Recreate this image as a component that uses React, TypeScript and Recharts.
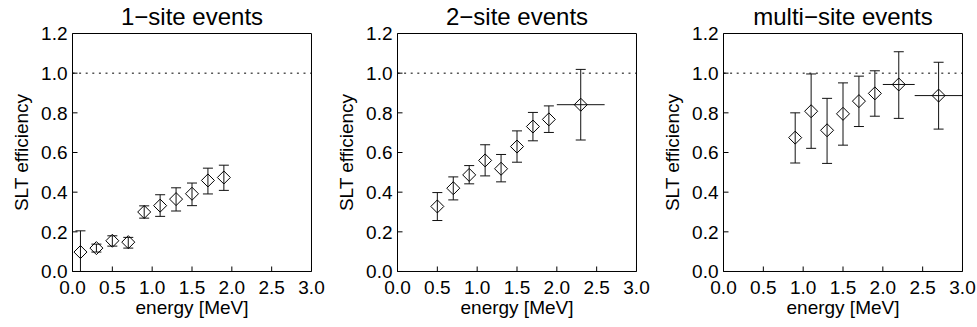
import { ScatterChart, Scatter, XAxis, YAxis, ErrorBar, ReferenceLine } from 'recharts';

// axis ticks
const majorX = [0, 0.5, 1.0, 1.5, 2.0, 2.5, 3.0];
const minorX = [0, 0.1, 0.2, 0.3, 0.4, 0.5, 0.6, 0.7, 0.8, 0.9, 1.0, 1.1, 1.2, 1.3, 1.4, 1.5, 1.6, 1.7, 1.8, 1.9, 2.0, 2.1, 2.2, 2.3, 2.4, 2.5, 2.6, 2.7, 2.8, 2.9, 3.0];
const majorY = [0, 0.2, 0.4, 0.6, 0.8, 1.0, 1.2];
const minorY = [0, 0.05, 0.1, 0.15, 0.2, 0.25, 0.3, 0.35, 0.4, 0.45, 0.5, 0.55, 0.6, 0.65, 0.7, 0.75, 0.8, 0.85, 0.9, 0.95, 1.0, 1.05, 1.1, 1.15, 1.2];

// 1-site events
const site1Energy = [0.1, 0.3, 0.5, 0.7, 0.9, 1.1, 1.3, 1.5, 1.7, 1.9];
const site1Eff = [0.098, 0.118, 0.155, 0.148, 0.300, 0.332, 0.365, 0.392, 0.459, 0.474];
const site1Low = [0.0, 0.098, 0.128, 0.118, 0.269, 0.278, 0.305, 0.332, 0.391, 0.409];
const site1High = [0.205, 0.138, 0.180, 0.172, 0.331, 0.387, 0.422, 0.446, 0.521, 0.536];

// 2-site events
const site2Energy = [0.5, 0.7, 0.9, 1.1, 1.3, 1.5, 1.7, 1.9, 2.3];
const site2Eff = [0.328, 0.420, 0.487, 0.560, 0.518, 0.630, 0.731, 0.767, 0.841];
const site2Low = [0.257, 0.361, 0.442, 0.482, 0.452, 0.551, 0.659, 0.701, 0.663];
const site2High = [0.398, 0.477, 0.534, 0.639, 0.590, 0.709, 0.802, 0.835, 1.019];
const site2BinLow = [0.5, 0.7, 0.9, 1.1, 1.3, 1.5, 1.7, 1.9, 2.0];
const site2BinHigh = [0.5, 0.7, 0.9, 1.1, 1.3, 1.5, 1.7, 1.9, 2.6];

// multi-site events
const multiEnergy = [0.9, 1.1, 1.3, 1.5, 1.7, 1.9, 2.2, 2.7];
const multiEff = [0.675, 0.808, 0.712, 0.795, 0.859, 0.898, 0.943, 0.887];
const multiLow = [0.547, 0.621, 0.545, 0.637, 0.731, 0.783, 0.772, 0.718];
const multiHigh = [0.800, 0.996, 0.873, 0.951, 0.985, 1.012, 1.108, 1.055];
const multiBinLow = [0.9, 1.1, 1.3, 1.5, 1.7, 1.9, 2.0, 2.4];
const multiBinHigh = [0.9, 1.1, 1.3, 1.5, 1.7, 1.9, 2.4, 3.0];

const FONT = '"Liberation Sans", Arial, Helvetica, sans-serif';
const W = 326;
const H = 327;
const M = { top: 33.5, right: 14.5, bottom: 55.5, left: 72.5 };
const AX = '#000';

const buildRows = (energy: number[], eff: number[], low: number[], high: number[], binLow?: number[], binHigh?: number[]) =>
  energy.map((e, i) => {
    const hasX = binLow && binHigh && binHigh[i] > binLow[i];
    return {
      energy: e,
      eff: eff[i],
      yErr: [eff[i] - low[i], high[i] - eff[i]],
      xErr: hasX ? [e - binLow![i], binHigh![i] - e] : null,
    };
  });

const Diamond = (props: any) => {
  const { cx, cy } = props;
  if (cx == null || cy == null) return null;
  const r = 6.5;
  return (
    <path
      d={`M${cx},${cy - r}L${cx + r},${cy}L${cx},${cy + r}L${cx - r},${cy}Z`}
      fill="none"
      stroke="#000"
      strokeWidth={1}
    />
  );
};

const Panel = ({ title, rows, left }: { title: string; rows: any[]; left: number }) => {
  const midX = M.left + (W - M.left - M.right) / 2;
  const midY = M.top + (H - M.top - M.bottom) / 2;
  const thin = 0.001;
  return (
    <div style={{ position: 'absolute', left, top: 0, width: W, height: H }}>
      <ScatterChart width={W} height={H} margin={M} style={{ fontFamily: FONT }}>
        {/* minor ticks, all four sides */}
        <XAxis xAxisId="bm" type="number" domain={[0, 3]} ticks={minorX} interval={0} orientation="bottom"
          height={thin} tickSize={-3} tick={false} axisLine={false} tickLine={{ stroke: AX }} allowDataOverflow />
        <XAxis xAxisId="tm" type="number" domain={[0, 3]} ticks={minorX} interval={0} orientation="top"
          height={thin} tickSize={-3} tick={false} axisLine={false} tickLine={{ stroke: AX }} allowDataOverflow />
        <YAxis yAxisId="lm" type="number" domain={[0, 1.2]} ticks={minorY} interval={0} orientation="left"
          width={thin} tickSize={-3} tick={false} axisLine={false} tickLine={{ stroke: AX }} allowDataOverflow />
        <YAxis yAxisId="rm" type="number" domain={[0, 1.2]} ticks={minorY} interval={0} orientation="right"
          width={thin} tickSize={-3} tick={false} axisLine={false} tickLine={{ stroke: AX }} allowDataOverflow />
        {/* major ticks on top / right */}
        <XAxis xAxisId="t" type="number" domain={[0, 3]} ticks={majorX} interval={0} orientation="top"
          height={thin} tickSize={-5} tick={false} axisLine={{ stroke: AX }} tickLine={{ stroke: AX }} allowDataOverflow />
        <YAxis yAxisId="r" type="number" domain={[0, 1.2]} ticks={majorY} interval={0} orientation="right"
          width={thin} tickSize={-5} tick={false} axisLine={{ stroke: AX }} tickLine={{ stroke: AX }} allowDataOverflow />
        {/* main axes with labels */}
        <XAxis xAxisId="main" dataKey="energy" type="number" domain={[0, 3]} ticks={majorX} interval={0}
          orientation="bottom" height={thin} tickSize={-5} tickMargin={14}
          tick={{ fill: '#000', fontSize: 19, fontFamily: FONT }} tickFormatter={(v: number) => v.toFixed(1)}
          axisLine={{ stroke: AX }} tickLine={{ stroke: AX }} allowDataOverflow />
        <YAxis yAxisId="main" dataKey="eff" type="number" domain={[0, 1.2]} ticks={majorY} interval={0}
          orientation="left" width={thin} tickSize={-5} tickMargin={10}
          tick={{ fill: '#000', fontSize: 19, fontFamily: FONT }} tickFormatter={(v: number) => v.toFixed(1)}
          axisLine={{ stroke: AX }} tickLine={{ stroke: AX }} allowDataOverflow />
        <ReferenceLine xAxisId="main" yAxisId="main" y={1} stroke="#000" strokeDasharray="2 4.6" />
        <Scatter xAxisId="main" yAxisId="main" data={rows} shape={Diamond} isAnimationActive={false}>
          <ErrorBar dataKey="yErr" direction="y" width={5} stroke="#111" strokeWidth={1} isAnimationActive={false} />
          <ErrorBar dataKey="xErr" direction="x" width={0} stroke="#111" strokeWidth={1} isAnimationActive={false} />
        </Scatter>
      </ScatterChart>
      <svg width={W} height={H} style={{ position: 'absolute', left: 0, top: 0, pointerEvents: 'none' }}>
        <g fontFamily={FONT} fill="#000">
          <text x={midX} y={24.5} textAnchor="middle" fontSize={24}>{title}</text>
          <text x={midX} y={313.5} textAnchor="middle" fontSize={19}>energy [MeV]</text>
          <text transform={`translate(28,${midY}) rotate(-90)`} textAnchor="middle" fontSize={19}>SLT efficiency</text>
        </g>
      </svg>
    </div>
  );
};

export default function App() {
  const site1Rows = buildRows(site1Energy, site1Eff, site1Low, site1High);
  const site2Rows = buildRows(site2Energy, site2Eff, site2Low, site2High, site2BinLow, site2BinHigh);
  const multiRows = buildRows(multiEnergy, multiEff, multiLow, multiHigh, multiBinLow, multiBinHigh);
  return (
    <div style={{ position: 'absolute', left: 0, top: 0, width: 977, height: 327, background: '#fff' }}>
      <Panel title="1−site events" rows={site1Rows} left={0} />
      <Panel title="2−site events" rows={site2Rows} left={325} />
      <Panel title="multi−site events" rows={multiRows} left={650.5} />
    </div>
  );
}
